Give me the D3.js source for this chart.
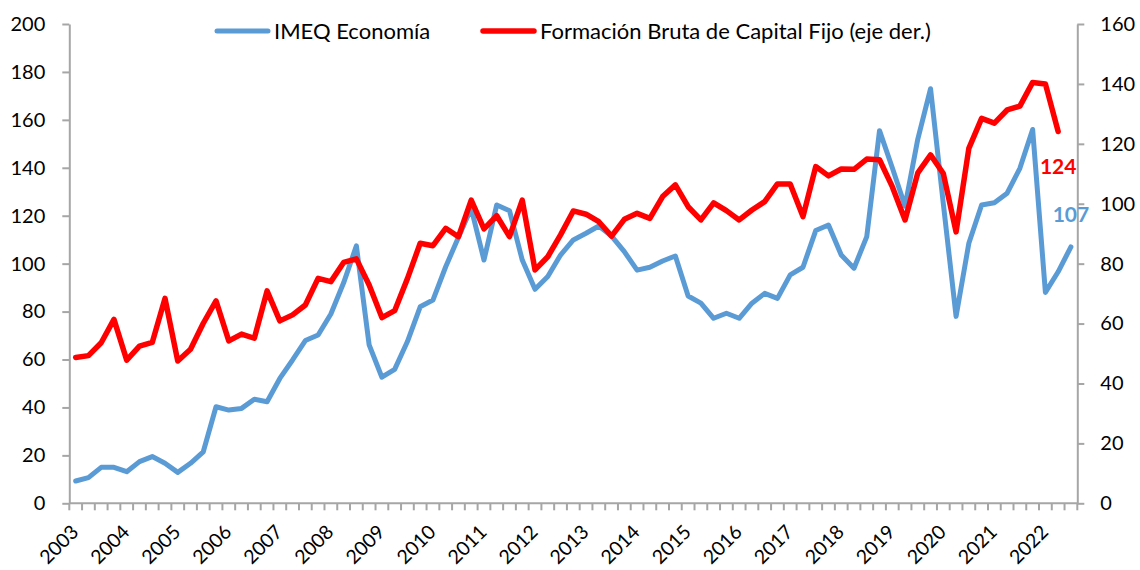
<!DOCTYPE html>
<html>
<head>
<meta charset="utf-8">
<script src="https://cdn.jsdelivr.net/npm/d3@7"></script>
<style>
  html, body { margin: 0; padding: 0; background: #fff; }
  svg { display: block; }
  text { font-family: Lato, "Open Sans", sans-serif; fill: #000; }
</style>
</head>
<body>
<svg id="chart" width="1140" height="570"></svg>
<script>
// ---- data (quarterly, 2003T1 .. 2022T3) ----
const years = ["2003","2004","2005","2006","2007","2008","2009","2010","2011","2012",
               "2013","2014","2015","2016","2017","2018","2019","2020","2021","2022"];
const quarterNames = ["T1","T2","T3","T4"];
const quarters = years.flatMap(y => quarterNames.map(q => y + q)).slice(0, 79);

// IMEQ Economía (left axis)
const imeq = [
  9.3, 10.7, 15.0, 15.0,
  13.2, 17.4, 19.5, 16.7,
  12.9, 16.7, 21.5, 40.3,
  38.9, 39.6, 43.4, 42.4,
  52.1, 59.8, 67.9, 70.2,
  79.0, 92.0, 107.4, 66.1,
  52.6, 55.9, 67.5, 82.0,
  84.8, 98.7, 111.0, 123.1,
  101.5, 124.5, 122.1, 101.5,
  89.3, 94.6, 103.6, 109.9,
  112.7, 115.7, 111.5, 105.0,
  97.3, 98.5, 101.1, 103.2,
  86.5, 83.5, 77.2, 79.3,
  77.2, 83.5, 87.6, 85.5,
  95.3, 98.5, 113.8, 116.1,
  103.6, 98.1, 111.3, 155.5,
  140.0, 124.0, 152.0, 173.0,
  125.0, 78.0, 108.5, 124.5,
  125.4, 129.4, 139.8, 156.0,
  88.0, 96.6, 107.0
];

// Formación Bruta de Capital Fijo (right axis)
const fbcf = [
  48.7, 49.3, 53.6, 61.4,
  47.8, 52.5, 53.7, 68.4,
  47.5, 51.4, 60.1, 67.6,
  54.2, 56.5, 55.1, 70.9,
  60.9, 62.9, 66.2, 75.1,
  74.0, 80.4, 81.6, 72.9,
  62.0, 64.3, 75.0, 86.8,
  86.0, 91.8, 89.0, 101.2,
  91.6, 96.0, 89.0, 101.2,
  77.9, 82.3, 89.6, 97.6,
  96.5, 94.0, 89.2, 94.8,
  96.8, 95.1, 102.4, 106.3,
  99.0, 94.6, 100.3, 97.7,
  94.6, 97.9, 100.7, 106.6,
  106.6, 95.7, 112.4, 109.3,
  111.6, 111.5, 114.9, 114.7,
  105.7, 94.6, 110.3, 116.3,
  110.1, 90.6, 118.5, 128.5,
  126.9, 131.3, 132.6, 140.5,
  140.0, 124.1
];

const leftTicks = [0, 20, 40, 60, 80, 100, 120, 140, 160, 180, 200];
const rightTicks = [0, 20, 40, 60, 80, 100, 120, 140, 160];
const seriesNames = ["IMEQ Economía", "Formación Bruta de Capital Fijo (eje der.)"];
const endLabels = ["107", "124"];

// ---- layout ----
const L = 69.3, R = 1077.3, T = 24, B = 503.3;
const blue = "#5B9BD5", red = "#FF0000", axisColor = "#A6A6A6";

const svg = d3.select("#chart");

const x = d3.scaleBand().domain(d3.range(quarters.length)).range([L, R]).paddingInner(0).paddingOuter(0);
const cx = i => x(i) + x.bandwidth() / 2;
const yL = d3.scaleLinear().domain([0, 200]).range([B, T]);
const yR = d3.scaleLinear().domain([0, 160]).range([B, T]);

// left axis
const axL = svg.append("g").attr("transform", `translate(${L},0)`)
  .call(d3.axisLeft(yL).tickValues(leftTicks).tickSize(7).tickPadding(17).tickSizeOuter(0));
// right axis
const axR = svg.append("g").attr("transform", `translate(${R},0)`)
  .call(d3.axisRight(yR).tickValues(rightTicks).tickSize(7).tickPadding(16).tickSizeOuter(0));
[axL, axR].forEach(g => {
  g.selectAll("path, line").attr("stroke", axisColor).attr("stroke-width", 2);
  g.selectAll("text").attr("font-size", 20).attr("font-family", "Lato, 'Open Sans', sans-serif").attr("fill", "#000");
});

// x axis line and ticks at category boundaries
const xg = svg.append("g");
xg.append("line").attr("x1", L).attr("x2", R).attr("y1", B).attr("y2", B)
  .attr("stroke", axisColor).attr("stroke-width", 2);
const boundaries = d3.range(quarters.length + 1).map(i => i < quarters.length ? x(i) : x(i - 1) + x.bandwidth());
xg.selectAll("line.tk").data(boundaries).join("line").attr("class", "tk")
  .attr("x1", d => d).attr("x2", d => d).attr("y1", B).attr("y2", B + 7)
  .attr("stroke", axisColor).attr("stroke-width", 2);
xg.selectAll("text.yr").data(years).join("text").attr("class", "yr")
  .attr("text-anchor", "end")
  .attr("font-size", 19.5)
  .attr("transform", (d, k) => `translate(${cx(k * 4) + 4},${B + 30}) rotate(-45)`)
  .text(d => d);

// lines
const lineL = d3.line().x((d, i) => cx(i)).y(d => yL(d));
const lineR = d3.line().x((d, i) => cx(i)).y(d => yR(d));
svg.append("path").datum(imeq).attr("d", lineL).attr("fill", "none")
  .attr("stroke", blue).attr("stroke-width", 5).attr("stroke-linejoin", "round").attr("stroke-linecap", "round");
svg.append("path").datum(fbcf).attr("d", lineR).attr("fill", "none")
  .attr("stroke", red).attr("stroke-width", 5.5).attr("stroke-linejoin", "round").attr("stroke-linecap", "round");

// end labels
const lb = imeq.length - 1, lr = fbcf.length - 1;
svg.append("text").attr("x", cx(lb)).attr("y", yL(imeq[lb]) - 25)
  .attr("text-anchor", "middle").attr("font-size", 21).attr("font-weight", "bold")
  .style("fill", blue).text(endLabels[0]);
svg.append("text").attr("x", cx(lr)).attr("y", yR(fbcf[lr]) + 42)
  .attr("text-anchor", "middle").attr("font-size", 21).attr("font-weight", "bold")
  .style("fill", red).text(endLabels[1]);

// legend
const legend = [
  { name: seriesNames[0], color: blue, x1: 217, x2: 268, tx: 274, w: 5 },
  { name: seriesNames[1], color: red, x1: 483, x2: 534, tx: 540, w: 5.5 }
];
const lg = svg.append("g");
legend.forEach(d => {
  lg.append("line").attr("x1", d.x1).attr("x2", d.x2).attr("y1", 31).attr("y2", 31)
    .attr("stroke", d.color).attr("stroke-width", d.w).attr("stroke-linecap", "round");
  lg.append("text").attr("x", d.tx).attr("y", 38.5).attr("font-size", 22).text(d.name);
});
</script>
</body>
</html>
